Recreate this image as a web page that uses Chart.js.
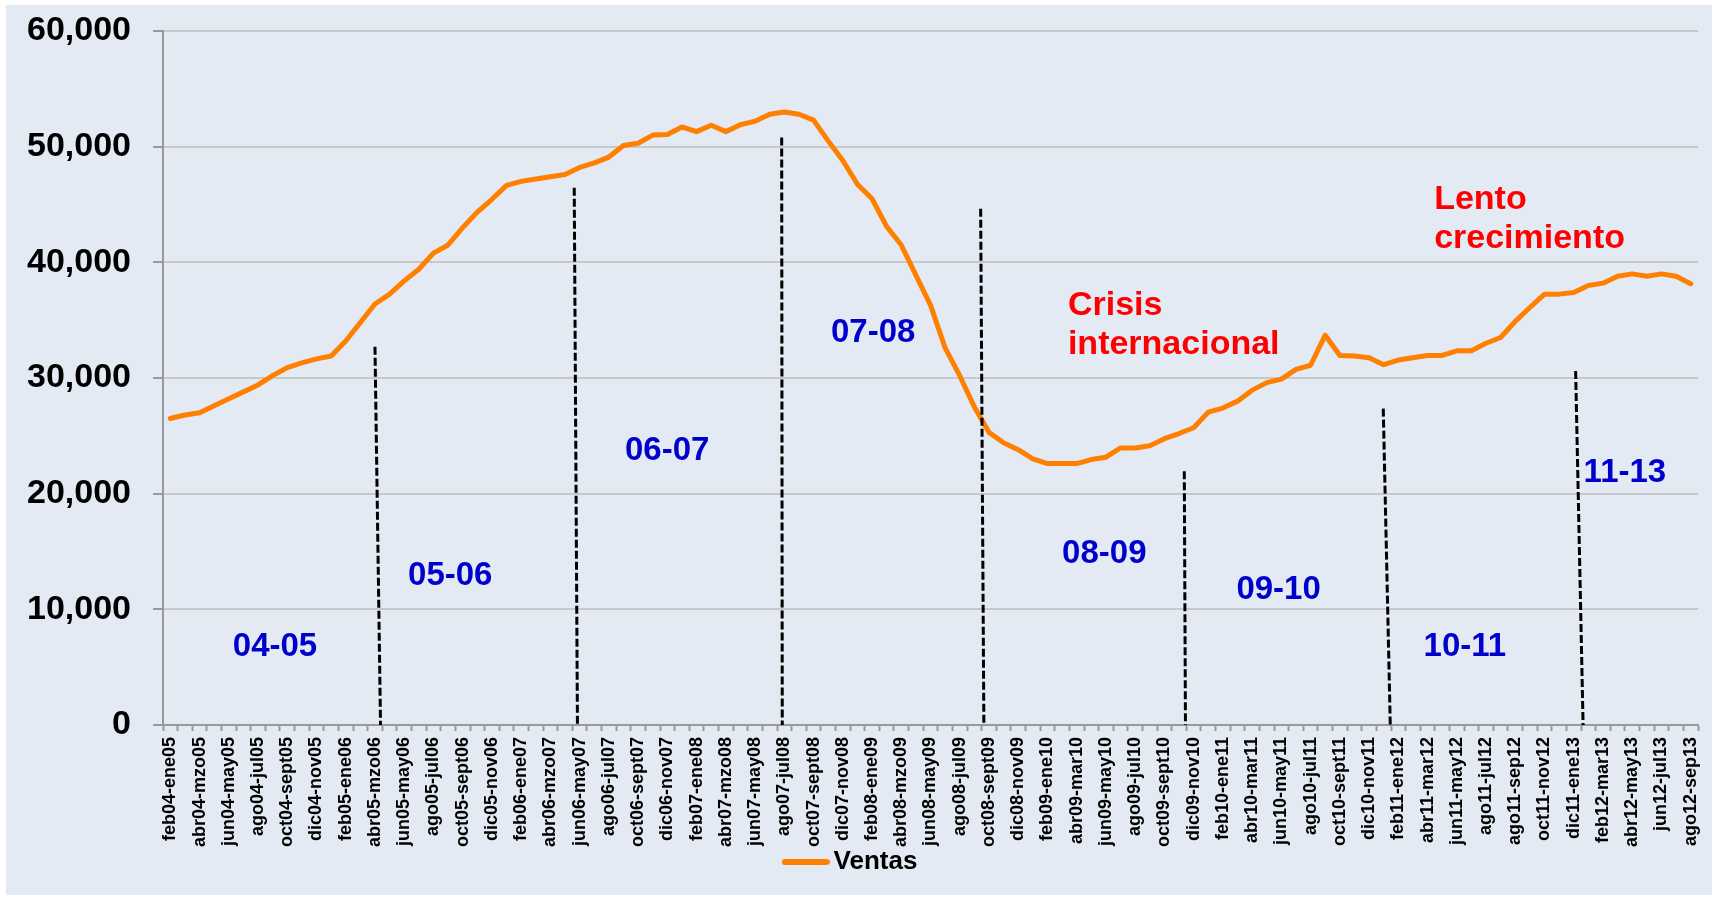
<!DOCTYPE html>
<html><head><meta charset="utf-8">
<script src="https://cdn.jsdelivr.net/npm/chart.js@4"></script>
<style>html,body{margin:0;padding:0;background:#fff;}canvas{display:block;}</style>
</head><body>
<canvas id="c" width="1718" height="899"></canvas>
<script>
const categories = [
 'feb04-ene05','mzo04-feb05','abr04-mzo05','may04-abr05','jun04-may05','jul04-jun05','ago04-jul05','sept04-ago05',
 'oct04-sept05','nov04-oct05','dic04-nov05','ene05-dic05','feb05-ene06','mzo05-feb06','abr05-mzo06','may05-abr06',
 'jun05-may06','jul05-jun06','ago05-jul06','sept05-ago06','oct05-sept06','nov05-oct06','dic05-nov06','ene06-dic06',
 'feb06-ene07','mzo06-feb07','abr06-mzo07','may06-abr07','jun06-may07','jul06-jun07','ago06-jul07','sept06-ago07',
 'oct06-sept07','nov06-oct07','dic06-nov07','ene07-dic07','feb07-ene08','mzo07-feb08','abr07-mzo08','may07-abr08',
 'jun07-may08','jul07-jun08','ago07-jul08','sept07-ago08','oct07-sept08','nov07-oct08','dic07-nov08','ene08-dic08',
 'feb08-ene09','mzo08-feb09','abr08-mzo09','may08-abr09','jun08-may09','jul08-jun09','ago08-jul09','sept08-ago09',
 'oct08-sept09','nov08-oct09','dic08-nov09','ene09-dic09','feb09-ene10','mar09-feb10','abr09-mar10','may09-abr10',
 'jun09-may10','jul09-jun10','ago09-jul10','sept09-ago10','oct09-sept10','nov09-oct10','dic09-nov10','ene10-dic10',
 'feb10-ene11','mar10-feb11','abr10-mar11','may10-abr11','jun10-may11','jul10-jun11','ago10-jul11','sept10-ago11',
 'oct10-sept11','nov10-oct11','dic10-nov11','ene11-dic11','feb11-ene12','mar11-feb12','abr11-mar12','may11-abr12',
 'jun11-may12','jul11-jun12','ago11-jul12','ago11-ago12','ago11-sep12','sep11-oct12','oct11-nov12','nov11-dic12',
 'dic11-ene13','ene12-feb13','feb12-mar13','mar12-abr13','abr12-may13','may12-jun13','jun12-jul13','jul12-ago13',
 'ago12-sep13'
];
const ventas = [
 26500,26800,27000,27600,28200,28800,29400,30200,30900,31300,
 31650,31900,33200,34800,36400,37250,38400,39400,40800,41500,
 43000,44350,45450,46650,47000,47200,47400,47600,48200,48600,
 49100,50100,50300,51000,51050,51700,51300,51850,51300,51900,
 52200,52800,53000,52800,52300,50500,48800,46750,45500,43100,
 41500,38900,36300,32600,30200,27500,25300,24400,23800,23000,
 22600,22600,22600,22950,23150,23950,23950,24150,24750,25200,
 25700,27050,27400,28000,28950,29600,29900,30750,31100,33700,
 31950,31900,31750,31150,31550,31750,31950,31950,32350,32350,
 33000,33500,34900,36100,37250,37250,37400,38000,38200,38800,
 39000,38800,39000,38800,38150
];
const yTicks = [0,10000,20000,30000,40000,50000,60000];

// period labels (blue) anchored in data space: category index, value
const periodNames  = ['04-05','05-06','06-07','07-08','08-09','09-10','10-11','11-13'];
const periodCats   = [7.16, 19.15, 33.99, 48.08, 63.89, 75.81, 88.55, 99.5];
const periodValues = [6770, 12910, 23660, 33930, 14810, 11670, 6730, 21760];

// dashed dividers: top (category, value) -> bottom (category, 0)
const dividerTopCats    = [14.0, 27.63, 41.82, 55.43, 69.36, 82.97, 96.13];
const dividerTopValues  = [32700, 46450, 50800, 44630, 21940, 27350, 30600];
const dividerBottomCats = [14.38, 27.85, 41.86, 55.65, 69.44, 83.45, 96.64];

// red notes
const noteLines  = [['Crisis','internacional'], ['Lento','crecimiento']];
const noteCats   = [61.4, 86.45];
const noteValues = [36270, 45450];

// legend symbol: short thick orange line with round caps
const legendSymbol = document.createElement('canvas');
legendSymbol.width = 48; legendSymbol.height = 8;
(function(){
  const g = legendSymbol.getContext('2d');
  g.strokeStyle = '#FF7F00'; g.lineWidth = 6; g.lineCap = 'round';
  g.beginPath(); g.moveTo(3,4); g.lineTo(45,4); g.stroke();
})();

const bgPlugin = {
  id:'bg',
  beforeDraw(chart){
    const c = chart.ctx;
    c.save();
    c.fillStyle = '#ffffff';
    c.fillRect(0,0,chart.width,chart.height);
    c.fillStyle = '#E3EAF4';
    c.fillRect(6,5,chart.width-12,chart.height-9);
    c.restore();
  }
};

const annoPlugin = {
  id:'anno',
  afterDatasetsDraw(chart){
    const c = chart.ctx, xs = chart.scales.x, ys = chart.scales.y;
    c.save();
    c.strokeStyle = '#000';
    c.lineWidth = 3;
    c.setLineDash([8,3]);
    for (let i=0;i<dividerTopCats.length;i++){
      c.beginPath();
      c.moveTo(xs.getPixelForValue(dividerTopCats[i]), ys.getPixelForValue(dividerTopValues[i]));
      c.lineTo(xs.getPixelForValue(dividerBottomCats[i]), ys.getPixelForValue(0));
      c.stroke();
    }
    c.setLineDash([]);
    c.fillStyle = '#0000CC';
    c.font = 'bold 33px "Liberation Sans", Arial, sans-serif';
    c.textAlign = 'center';
    c.textBaseline = 'middle';
    for (let i=0;i<periodNames.length;i++){
      c.fillText(periodNames[i], xs.getPixelForValue(periodCats[i]), ys.getPixelForValue(periodValues[i]));
    }
    c.fillStyle = '#FF0000';
    c.font = 'bold 34px "Liberation Sans", Arial, sans-serif';
    c.textAlign = 'left';
    for (let i=0;i<noteLines.length;i++){
      const x = xs.getPixelForValue(noteCats[i]);
      const y = ys.getPixelForValue(noteValues[i]);
      noteLines[i].forEach((t,k)=>c.fillText(t, x, y + k*39));
    }
    c.restore();
  }
};

new Chart(document.getElementById('c'), {
  type:'line',
  data:{
    labels: categories,
    datasets:[{
      label:'Ventas',
      data: ventas,
      borderColor:'#FF7F00',
      backgroundColor:'#FF7F00',
      borderWidth:5,
      borderJoinStyle:'round',
      borderCapStyle:'round',
      pointRadius:0,
      tension:0,
      fill:false
    }]
  },
  options:{
    responsive:false,
    animation:false,
    devicePixelRatio:1,
    layout:{padding:{left:10,right:20,top:31,bottom:14}},
    plugins:{
      legend:{
        position:'bottom',
        labels:{
          usePointStyle:true,
          pointStyle:legendSymbol,
          pointStyleWidth:30,
          color:'#000',
          padding:1,
          font:{family:'"Liberation Sans", Arial, sans-serif', size:26, weight:'bold'}
        }
      },
      tooltip:{enabled:false}
    },
    scales:{
      x:{
        offset:true,
        afterFit(s){ s.height = 123; s.paddingLeft = 0; s.paddingRight = 0; },
        grid:{offset:true, drawOnChartArea:false, drawTicks:true, tickLength:6, tickColor:'#999999', tickWidth:2},
        border:{color:'#999999', width:2},
        ticks:{
          autoSkip:false, minRotation:90, maxRotation:90, padding:6,
          color:'#000',
          font:{family:'"Liberation Sans", Arial, sans-serif', size:18, weight:'bold'},
          callback(v, i){ return i % 2 === 0 ? categories[i] : ''; }
        }
      },
      y:{
        min:0, max:60000,
        afterFit(s){ s.width = 153; s.paddingTop = 0; s.paddingBottom = 0; },
        afterBuildTicks(s){ s.ticks = yTicks.map(v=>({value:v})); },
        grid:{color:'#C8C8C8', lineWidth:2, tickLength:10, tickColor:'#999999', tickWidth:2},
        border:{color:'#999999', width:2},
        ticks:{
          padding:22, color:'#000',
          font:{family:'"Liberation Sans", Arial, sans-serif', size:34, weight:'bold'},
          callback(v){ return v.toLocaleString('en-US'); }
        }
      }
    }
  },
  plugins:[bgPlugin, annoPlugin]
});
</script>
</body></html>
